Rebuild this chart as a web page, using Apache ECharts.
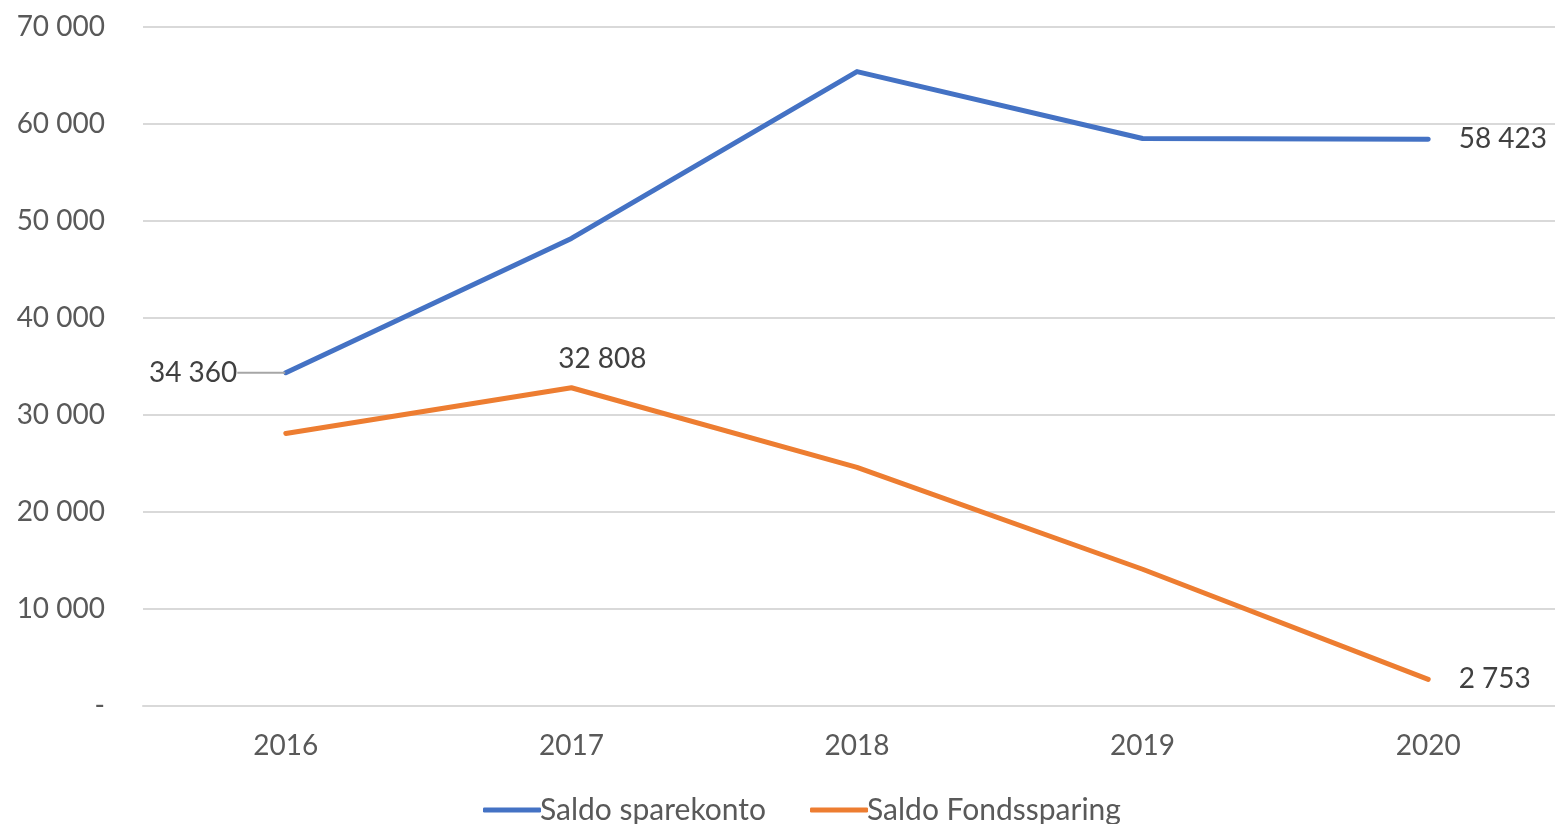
<!DOCTYPE html>
<html>
<head>
<meta charset="utf-8">
<script src="https://cdn.jsdelivr.net/npm/echarts@6/dist/echarts.min.js"></script>
<style>
  html, body { margin: 0; padding: 0; background: #fff; overflow: hidden; }
  #main { width: 1571px; height: 824px; }
</style>
</head>
<body>
<div id="main"></div>
<script>
// data
var years = ['2016', '2017', '2018', '2019', '2020'];
var sparekonto = [34360, 48200, 65400, 58500, 58423];
var fondssparing = [28100, 32808, 24600, 14100, 2753];
var seriesNames = ['Saldo sparekonto', 'Saldo Fondssparing'];

// which points carry a value label, and where
var spareLabels = { 0: 'left', 4: 'right' };
var fondsLabels = { 1: 'top', 4: 'right' };

function fmt(v) {
    if (v === 0) return '-';
    return String(Math.round(v)).replace(/\B(?=(\d{3})+(?!\d))/g, ' ');
}

function buildData(values, labelPos) {
    return values.map(function (v, i) {
        var item = { value: v };
        if (labelPos[i]) {
            item.label = {
                show: true,
                position: labelPos[i],
                distance: labelPos[i] === 'top' ? 14 : (labelPos[i] === 'left' ? 8 : 30)
            };
        }
        return item;
    });
}

var chartDom = document.getElementById('main');
var myChart = echarts.init(chartDom);
var font = 'Lato, "Noto Sans", sans-serif';

function lineSeries(name, values, labelPos, color) {
    return {
        name: name,
        type: 'line',
        data: buildData(values, labelPos),
        showSymbol: true,
        symbol: 'circle',
        symbolSize: 1,
        itemStyle: { color: color },
        lineStyle: { color: color, width: 5, cap: 'round', join: 'round' },
        label: {
            show: false,
            fontSize: 28,
            color: '#404040',
            fontFamily: font,
            formatter: function (p) { return fmt(p.value); }
        },
        emphasis: { disabled: true }
    };
}

var spare = lineSeries(seriesNames[0], sparekonto, spareLabels, '#4472c4');
// first label sits further left with a thin leader line
spare.data[0].label.padding = [0, 8, 0, 0];
spare.data[0].labelLine = { show: true, lineStyle: { color: '#a6a6a6', width: 2 } };
spare.labelLayout = function (params) {
    if (params.dataIndex === 0) return { dx: -32 };
    return {};
};
var fonds = lineSeries(seriesNames[1], fondssparing, fondsLabels, '#ed7d31');
fonds.labelLayout = function (params) {
    if (params.dataIndex === 1) return { dx: 31 };
    return {};
};

var option = {
    animation: false,
    textStyle: { fontFamily: font },
    legend: {
        data: seriesNames,
        bottom: -6,
        left: 478,
        itemWidth: 58,
        itemHeight: 5,
        itemGap: 44,
        icon: 'roundRect',
        textStyle: { fontSize: 30, color: '#595959', fontFamily: font, padding: [0, 0, 0, -6] }
    },
    grid: {
        left: 143,
        top: 27,
        bottom: 118,
        right: 0
    },
    xAxis: {
        type: 'category',
        data: years,
        boundaryGap: true,
        axisLine: { lineStyle: { color: '#d9d9d9', width: 2 } },
        axisTick: { show: false },
        axisLabel: { fontSize: 28, color: '#595959', margin: 26 }
    },
    yAxis: {
        type: 'value',
        min: 0,
        max: 70000,
        interval: 10000,
        axisLine: { show: false },
        axisTick: { show: false },
        splitLine: { lineStyle: { color: '#d9d9d9', width: 2 } },
        axisLabel: {
            fontSize: 28,
            color: '#595959',
            margin: 38,
            formatter: fmt
        }
    },
    series: [spare, fonds]
};

myChart.setOption(option);
</script>
</body>
</html>
